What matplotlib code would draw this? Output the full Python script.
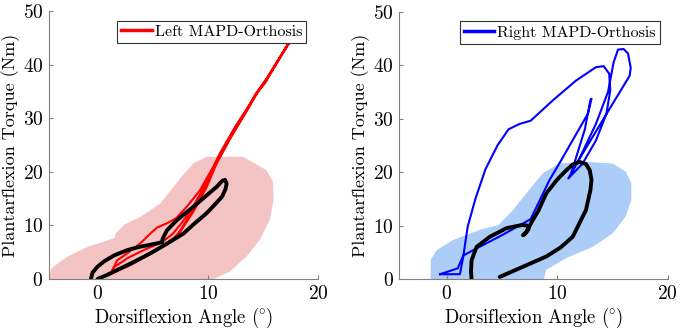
import matplotlib
matplotlib.use("Agg")
import matplotlib.pyplot as plt

plt.rcParams['font.family'] = ['cmr10', 'DejaVu Serif']
plt.rcParams['mathtext.fontset'] = 'cm'
plt.rcParams['axes.formatter.use_mathtext'] = True

# normative band (shaded), left
band_l_x = [-4.4, -4.2, -2.7, -0.9, 1.5, 1.65, 2.4, 3.9, 5.7, 7.5, 8.7, 9.9, 13.2, 15.3,
            15.9, 15.95, 15.6, 14.7, 13.5, 12.0, 10.5]
band_l_y = [0.0, 2.0, 4.2, 6.0, 7.6, 8.5, 10.1, 11.6, 14.1, 18.8, 21.6, 22.8, 22.8, 20.3,
            18.2, 14.7, 11.0, 7.3, 4.2, 1.4, 0.0]

# normative mean, left
mean_l_x = [-0.6, -0.45, 0.0, 0.6, 1.5, 2.7, 3.8, 4.8, 5.5, 5.85, 5.9, 6.3, 7.2, 8.7, 10.0,
            10.8, 11.3, 11.55, 11.7, 11.6, 11.3, 10.5, 9.9, 8.7, 7.8, 6.3, 4.8, 3.3, 1.8, 0.8, 0.0]
mean_l_y = [0.0, 1.2, 2.3, 3.3, 4.4, 5.4, 6.0, 6.4, 6.7, 6.9, 7.5, 9.1, 11.0, 13.5, 15.8,
            17.2, 18.3, 18.5, 17.8, 16.8, 15.4, 13.6, 12.3, 10.2, 8.5, 6.6, 4.8, 3.2, 1.7, 0.7, 0.0]

# left orthosis
orth_l_x = [1.18, 1.78, 2.7, 3.9, 4.8, 5.4, 6.3, 7.1, 8.1, 9.3, 10.5, 11.1, 12.5, 13.8, 14.6,
            15.3, 16.5, 17.6,
            16.4, 15.2, 14.5, 13.6, 12.2, 10.8, 9.9, 8.7, 7.8, 7.2, 6.6, 5.1, 3.0, 1.18,
            1.5, 2.8, 4.4, 5.8, 6.8, 7.6, 8.5, 9.6, 10.8, 12.3, 13.7, 14.5, 15.4, 16.4, 17.4,
            16.2, 15.0, 14.3, 13.2, 11.8, 10.6, 9.4, 8.3, 7.5, 6.9, 5.6, 3.6, 1.18]
orth_l_y = [0.93, 3.5, 4.8, 6.7, 8.5, 9.6, 10.4, 11.3, 13.5, 16.6, 21.0, 23.5, 28.5, 32.5, 35.2,
            37.2, 41.2, 44.8,
            40.8, 36.6, 34.8, 31.6, 27.0, 21.6, 17.2, 12.6, 9.8, 7.9, 7.0, 5.1, 2.6, 0.93,
            2.2, 4.0, 5.6, 6.8, 8.4, 10.4, 13.0, 16.9, 21.8, 27.6, 32.3, 35.0, 37.6, 41.0, 44.3,
            40.2, 36.3, 34.4, 30.3, 25.4, 20.9, 16.0, 11.8, 9.0, 7.6, 5.9, 3.6, 0.93]

# normative band, right
band_r_x = [-1.45, -1.45, -0.9, 0.6, 3.0, 4.7, 6.0, 7.2, 8.7, 10.2, 12.6, 15.0, 16.2, 16.7,
            16.7, 16.2, 15.0, 13.2, 10.8, 9.0, 8.8]
band_r_y = [0.0, 3.6, 5.4, 7.3, 9.2, 10.1, 12.9, 16.0, 19.8, 21.6, 21.9, 21.6, 20.1, 17.9,
            14.8, 11.7, 8.5, 6.0, 3.9, 1.7, 0.0]

# normative mean, right
mean_r_x = [2.25, 2.2, 2.25, 2.7, 3.9, 5.4, 6.8, 7.3, 7.4, 7.1, 6.9, 7.2, 7.7, 8.3, 9.0, 10.0,
            10.8, 11.4, 12.0, 12.6, 12.95, 13.1, 13.0, 12.6, 11.4, 10.3, 9.0, 6.9, 4.8]
mean_r_y = [0.0, 1.5, 3.5, 6.0, 7.9, 9.5, 10.1, 10.0, 9.3, 8.5, 8.2, 8.8, 10.7, 12.8, 16.0, 18.6,
            20.3, 21.4, 21.9, 21.5, 20.3, 18.5, 16.6, 12.9, 7.9, 5.9, 4.2, 2.3, 0.4]

# right orthosis
orth_r_x = [-0.6, 1.2, 1.5, 1.9, 2.6, 3.5, 4.6, 5.6, 6.6, 7.6, 9.6, 11.7, 13.5, 14.2, 14.7,
            14.8, 14.45, 13.5, 12.3, 11.0, 12.0, 13.5, 14.6, 15.1, 15.5, 16.0, 16.4, 16.65,
            16.55, 14.5, 12.6, 11.3, 12.5, 13.0, 13.1, 12.8, 10.3, 9.3, 7.6, 5.0, 2.5, 1.5,
            1.0, -0.6]
orth_r_y = [0.9, 0.9, 4.2, 9.8, 15.0, 20.5, 25.0, 28.0, 29.0, 29.6, 33.4, 37.1, 39.6, 39.8, 38.4,
            35.3, 30.9, 25.9, 21.6, 18.8, 22.5, 29.0, 35.0, 40.5, 42.9, 43.0, 42.2, 39.5,
            38.0, 31.0, 24.5, 20.0, 28.0, 33.5, 33.7, 31.0, 22.0, 18.5, 11.2, 8.2, 5.5, 4.4,
            2.0, 0.9]

fig = plt.figure(figsize=(6.8, 3.31), dpi=100)
ax1 = fig.add_axes([0.072, 0.157, 0.396, 0.81])
ax2 = fig.add_axes([0.587, 0.157, 0.395, 0.808])

panels = [
    (ax1, band_l_x, band_l_y, mean_l_x, mean_l_y, orth_l_x, orth_l_y,
     '#f4c3c3', 'red', 'Left MAPD-Orthosis', -4.4, (0.955, 0.963)),
    (ax2, band_r_x, band_r_y, mean_r_x, mean_r_y, orth_r_x, orth_r_y,
     '#abcdf7', 'blue', 'Right MAPD-Orthosis', -4.3, (0.97, 0.963)),
]

for ax, bx, by, mx, my, ox, oy, fc, lc, lab, xmin, anchor in panels:
    ax.fill(bx, by, color=fc, lw=0)
    ax.plot(ox, oy, color=lc, lw=1.5, label=lab)
    ax.plot(mx, my, color='black', lw=2.8, solid_capstyle='round')
    ax.set_xlim(xmin, 20)
    ax.set_ylim(0, 50)
    ax.set_xticks([0, 10, 20])
    ax.set_yticks([0, 10, 20, 30, 40, 50])
    ax.tick_params(direction='in', length=3, width=0.8, labelsize=14, color='#808080', pad=4)
    for s in ['top', 'right']:
        ax.spines[s].set_visible(False)
    for s in ['left', 'bottom']:
        ax.spines[s].set_color('#808080')
        ax.spines[s].set_linewidth(0.8)
    ax.set_xlabel(r'Dorsiflexion Angle ($\hspace{-0.06}^{\circ}\hspace{-0.06}$)',
                  fontsize=13.5, labelpad=2)
    ax.set_ylabel('Plantarflexion Torque (Nm)', fontsize=13, labelpad=2)
    leg = ax.legend(loc='upper right', bbox_to_anchor=anchor, borderaxespad=0,
                    fontsize=11.5, fancybox=False, framealpha=1, edgecolor='#333333',
                    handlelength=1.9, handletextpad=0.2, borderpad=0.25)
    leg.get_frame().set_linewidth(0.8)
    for h in leg.get_lines():
        h.set_linewidth(2.5)

fig.savefig('out.png', dpi=100)
